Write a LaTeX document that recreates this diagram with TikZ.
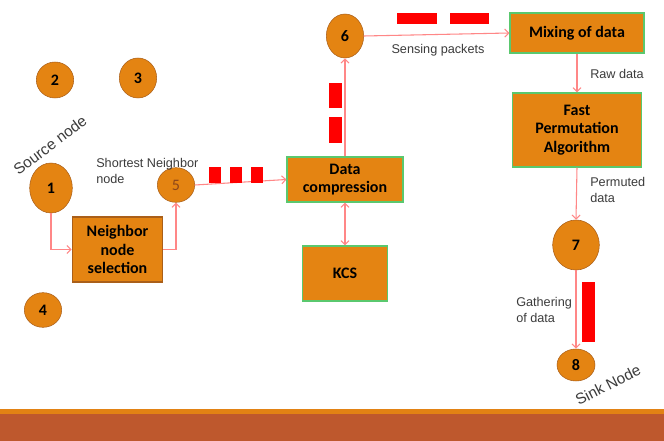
\documentclass[tikz,border=0pt]{standalone}
\usepackage{fontspec}
\setmainfont{Liberation Sans}
\newfontfamily\boxfont{Carlito}
\usetikzlibrary{shapes.geometric,arrows.meta,positioning}
\definecolor{nodeOrange}{RGB}{228,132,18}
\definecolor{nodeEdge}{RGB}{170,95,25}
\definecolor{boxGreen}{RGB}{90,200,110}
\definecolor{linkPink}{RGB}{255,135,135}
\definecolor{packetRed}{RGB}{255,0,0}
\definecolor{labelGray}{RGB}{60,60,60}
\definecolor{fiveBrown}{RGB}{140,70,25}
\definecolor{bandRust}{RGB}{190,88,45}
\definecolor{bandOrange}{RGB}{226,130,20}

\begin{document}
\begin{tikzpicture}[x=0.75pt,y=-0.75pt,
    sensor/.style={ellipse, fill=nodeOrange, draw=nodeEdge, inner sep=0pt,
        font=\boxfont\bfseries\fontsize{12}{14}\selectfont},
    procbox/.style={rectangle, fill=nodeOrange, draw=boxGreen, thick, align=center,
        inner sep=1pt, font=\boxfont\bfseries\fontsize{12}{14}\selectfont},
    link/.style={draw=linkPink, line width=0.8pt, -{Straight Barb[length=3pt,width=6pt]}},
    note/.style={text=labelGray, inner sep=0pt, font=\fontsize{9.5}{12}\selectfont},
    tilted/.style={text=labelGray, inner sep=0pt, font=\fontsize{11.5}{13}\selectfont},
    packet/.style={fill=packetRed}]
    \useasboundingbox (0,0) rectangle (664,441);
    \fill[white] (0,0) rectangle (664,441);

    % Source side (left)
    \node[sensor, minimum width=28pt, minimum height=27pt] (n2) at (55,80) {2};
    \node[sensor, minimum width=28pt, minimum height=30pt] (n3) at (138,78) {3};
    \node[sensor, minimum width=32pt, minimum height=37.5pt] (n1) at (51,188) {1};
    \node[sensor, minimum width=28pt, minimum height=26pt] (n4) at (43,310) {4};
    \node[sensor, minimum width=28pt, minimum height=26pt, text=fiveBrown,
        font=\boxfont\fontsize{12}{14}\selectfont] (n5) at (176,185) {5};
    \node[tilted, rotate=37] (srclabel) at (50,145) {Source node};
    \node[note, anchor=west, align=left] (shortlabel) at (96,171) {Shortest Neighbor\\node};
    \node[procbox, draw=nodeEdge, minimum width=68pt, minimum height=48.75pt] (select) at (117.5,249.5)
        {Neighbor\\node\\selection};

    % Compression (middle)
    \node[procbox, minimum width=87pt, minimum height=33.75pt] (compress) at (345,179.5) {Data\\compression};
    \node[procbox, minimum width=63.75pt, minimum height=41.25pt] (kcs) at (345,273.5) {KCS};
    \node[sensor, minimum width=28pt, minimum height=33pt] (n6) at (345,36) {6};
    \node[note] (senselabel) at (438,50) {Sensing packets};

    % Sink side (right)
    \node[procbox, minimum width=100.5pt, minimum height=30pt] (mix) at (577,33) {Mixing of data};
    \node[procbox, minimum width=96.75pt, minimum height=55.5pt] (fpa) at (577,130)
        {Fast\\Permutation\\Algorithm};
    \node[sensor, minimum width=35pt, minimum height=37.5pt] (n7) at (576,245) {7};
    \node[sensor, minimum width=28.5pt, minimum height=24pt] (n8) at (576,365) {8};
    \node[note, anchor=west] (rawlabel) at (590,74) {Raw data};
    \node[note, anchor=west, align=left] (permlabel) at (590,190) {Permuted\\data};
    \node[note, anchor=west, align=left] (gatherlabel) at (516,310) {Gathering\\of data};
    \node[tilted, rotate=27] (sinklabel) at (608,385) {Sink Node};

    % Connectors
    \draw[link] (n1.south) |- (select.west);
    \draw[link] (select.east) -| (n5.south);
    \draw[link] (n5.east) -- (compress.west);
    \draw[link] (compress.north) -- (n6.south);
    \draw[link, {Straight Barb[length=3pt,width=6pt]}-{Straight Barb[length=3pt,width=6pt]}]
        (compress.south) -- (kcs.north);
    \draw[link] (n6.east) -- (mix.west);
    \draw[link] (mix.south) -- (fpa.north);
    \draw[link] (fpa.south) -- (n7.north);
    \draw[link] (n7.south) -- (n8.north);

    % Packets
    \foreach \px in {209,230,251}
        \fill[packet] (\px,167) rectangle +(12,16);
    \fill[packet] (329,83) rectangle (342,108);
    \fill[packet] (329,117) rectangle (342,143);
    \fill[packet] (397,13) rectangle (437,24);
    \fill[packet] (450,13) rectangle (489,24);
    \fill[packet] (582,282) rectangle (595,342);

    % Bottom band
    \fill[bandOrange] (0,409) rectangle (664,414);
    \fill[bandRust] (0,414) rectangle (664,441);
\end{tikzpicture}
\end{document}
